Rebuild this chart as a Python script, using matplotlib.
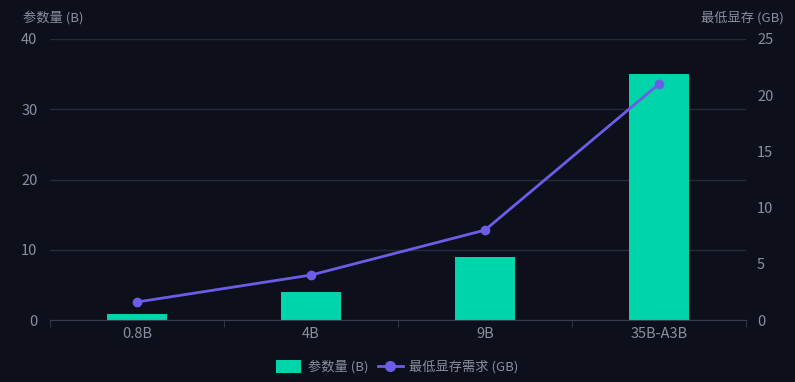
import matplotlib
matplotlib.use("Agg")
import matplotlib.pyplot as plt
from matplotlib.lines import Line2D
from matplotlib.patches import Patch

plt.rcParams['font.family'] = ['Noto Sans CJK SC', 'DejaVu Sans']

categories = ["0.8B", "4B", "9B", "35B-A3B"]
params_b = [0.8, 4, 9, 35]
min_vram_gb = [1.6, 4, 8, 21]

bg = "#0d0f1a"
bar_color = "#00d4aa"
line_color = "#6c5ce7"
grid_color = "#272a38"
text_color = "#8a8fa0"

fig = plt.figure(figsize=(7.95, 3.82), dpi=100, facecolor=bg)
ax = fig.add_axes([50/795, 1-320/382, 696/795, 281/382])
ax.set_facecolor(bg)
x = list(range(len(categories)))
ax.bar(x, params_b, width=0.345, color=bar_color, zorder=2)
ax.set_xlim(-0.5, len(categories)-0.5)
ax.set_ylim(0, 40)
ax.set_yticks([0, 10, 20, 30, 40])
ax.grid(axis='y', color=grid_color, linewidth=1, zorder=0)
ax.set_xticks(x)
ax.set_xticklabels(categories)
ax.set_xticks([i - 0.5 for i in range(len(categories)+1)], minor=True)
ax.tick_params(axis='x', which='major', length=0, colors=text_color, labelsize=10.5, pad=5)
ax.tick_params(axis='x', which='minor', length=5, color="#3a3e4c")
ax.tick_params(axis='y', length=0, colors=text_color, labelsize=10.5, pad=9)
for s in ['top', 'right', 'left']:
    ax.spines[s].set_visible(False)
ax.spines['bottom'].set_color("#3a3e4c")

ax2 = ax.twinx()
ax2.set_ylim(0, 25)
ax2.set_yticks([0, 5, 10, 15, 20, 25])
ax2.plot(x, min_vram_gb, color=line_color, linewidth=2, marker='o', markersize=6, zorder=3)
ax2.tick_params(axis='y', length=0, colors=text_color, labelsize=10.5, pad=8)
for s in ['top', 'right', 'left', 'bottom']:
    ax2.spines[s].set_visible(False)

fig.text(23/795, 1-18/382, "参数量 (B)", color=text_color, fontsize=9.5, ha='left', va='center')
fig.text(784/795, 1-18/382, "最低显存 (GB)", color=text_color, fontsize=9.5, ha='right', va='center')

handles = [Patch(facecolor=bar_color, edgecolor='none', label="参数量 (B)"),
           Line2D([0], [0], color=line_color, linewidth=2, marker='o', markersize=7, label="最低显存需求 (GB)")]
leg = fig.legend(handles=handles, loc='center', bbox_to_anchor=(0.5, 1-367/382), ncol=2, frameon=False,
                 fontsize=9.5, labelcolor=text_color, handlelength=1.9, handleheight=1.1,
                 columnspacing=0.7, handletextpad=0.5)

fig.savefig("out.png", dpi=100, facecolor=bg)
